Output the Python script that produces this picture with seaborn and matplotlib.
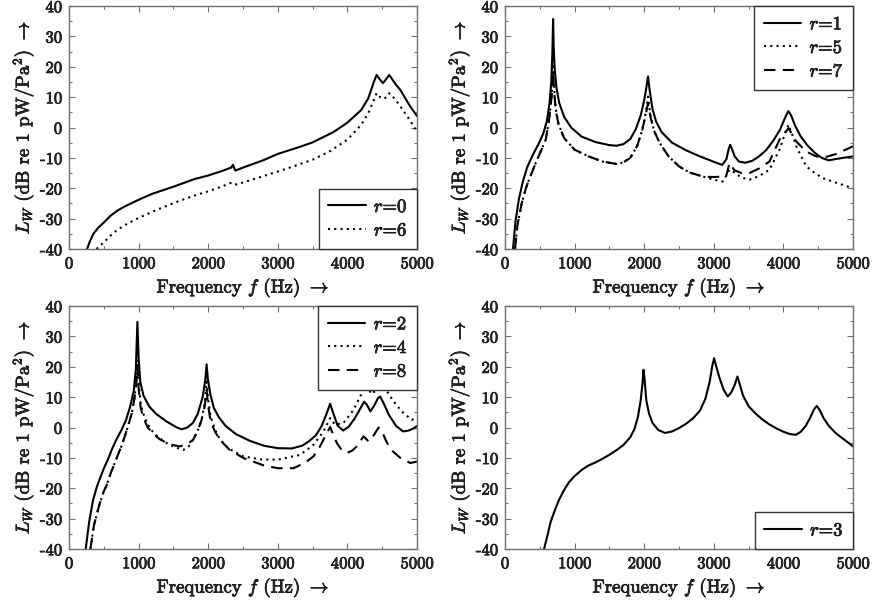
import matplotlib
matplotlib.use("Agg")
import matplotlib.pyplot as plt
import matplotlib.patheffects as pe
import seaborn as sns
from matplotlib.ticker import MultipleLocator

sns.set_style("ticks")
plt.rcParams['font.family'] = 'cmr10'
plt.rcParams['mathtext.fontset'] = 'cm'
plt.rcParams['axes.unicode_minus'] = False

# ---- panel (a): r=0, r=6
f_r0 = [260, 300, 350, 420, 500, 600, 700, 800, 1000, 1200, 1500, 1800, 2000, 2200, 2330, 2355,
        2390, 2500, 2800, 3000, 3300, 3500, 3800, 4000, 4200, 4300, 4380, 4420, 4460, 4510,
        4560, 4600, 4640, 4700, 4760, 4900, 5000]
L_r0 = [-40, -37.5, -35, -33, -31.3, -29, -27.3, -26, -23.8, -21.8, -19.5, -17, -15.8, -14.3, -13.2, -12.3,
        -14.2, -13.2, -10.7, -8.7, -6.5, -4.9, -1.5, 1.6, 5.8, 9.6, 15, 17.3, 16, 14.6,
        16, 17.3, 16, 14, 12.4, 7, 3.8]
f_r6 = [395, 500, 600, 700, 850, 1000, 1250, 1500, 1750, 2000, 2200, 2340, 2410, 2500, 2750,
        3000, 3250, 3500, 3750, 4000, 4200, 4300, 4370, 4420, 4470, 4520, 4560, 4600, 4680,
        4760, 4880, 5000]
L_r6 = [-40, -37.8, -35.5, -33.6, -31.5, -29.8, -27.2, -24.9, -22.8, -21, -19.4, -18.1, -18.8, -18.1, -16.3,
        -14.5, -12.6, -10.6, -7.8, -4, 0.9, 4.7, 8.5, 11.3, 10, 9.4, 10, 11.3, 9.5,
        7, 3, -1.3]

# ---- panel (b): r=1, r=5, r=7
f_r1 = [115, 150, 200, 260, 320, 400, 480, 550, 600, 640, 665, 680, 691, 700, 715, 740, 780,
        850, 950, 1100, 1300, 1500, 1600, 1700, 1800, 1880, 1950, 2000, 2030, 2055, 2080, 2120,
        2170, 2250, 2400, 2600, 2800, 3000, 3120, 3180, 3215, 3235, 3260, 3300, 3360, 3450,
        3550, 3650, 3750, 3850, 3950, 4020, 4070, 4110, 4170, 4250, 4350, 4450, 4550, 4650,
        4800, 5000]
L_r1 = [-40, -31, -23.5, -17.5, -13, -9, -5.5, -2, 2, 8, 15, 24, 35.7, 26, 19, 13, 8,
        3.5, 0, -3, -4.8, -5.8, -6, -5.5, -3.8, -0.5, 4, 9, 13, 16.8, 12, 6,
        2, -1.5, -5, -7.5, -9.5, -11.3, -12.3, -10.5, -7, -5.7, -7, -9.5, -11.2, -11.6,
        -11, -9.5, -7.5, -4.5, -0.8, 3, 5.4, 4, 0.5, -3, -6, -8.3, -10, -10.8,
        -10.2, -9.5]
f_r5 = [144, 180, 240, 300, 345, 441, 520, 585, 630, 660, 680, 691, 705, 730, 770, 850, 1000,
        1200, 1400, 1600, 1700, 1800, 1900, 1970, 2020, 2055, 2090, 2140, 2220, 2350, 2500,
        2650, 2850, 3000, 3129, 3200, 3225, 3273, 3400, 3512, 3650, 3800, 3944, 4030, 4074,
        4130, 4185, 4328, 4450, 4568, 4800, 5000]
L_r5 = [-40, -32, -25, -20, -17.2, -11.7, -7.5, -4, 2, 8, 14, 21.1, 13, 6, 1, -3.5, -7.3,
        -9.5, -11.2, -12, -11.5, -10, -6, -1, 4.5, 10.2, 4, -1, -5, -9.5, -12.8,
        -14.8, -16.2, -17.2, -17.8, -15, -13.9, -14.5, -16.5, -17.2, -16, -13.9, -7.3, -1.5, 0.9,
        -2.5, -6.2, -12.8, -15, -16.7, -18.5, -20]
f_r7 = [144, 180, 240, 300, 345, 441, 520, 585, 630, 660, 680, 691, 705, 730, 770, 850, 1000,
        1200, 1400, 1600, 1700, 1800, 1900, 1970, 2020, 2055, 2090, 2140, 2220, 2350, 2500,
        2650, 2850, 3000, 3177, 3225, 3297, 3400, 3512, 3650, 3800, 3944, 4030, 4074, 4130,
        4185, 4328, 4450, 4568, 4760, 5000]
L_r7 = [-40, -32, -25, -20, -17.2, -11.7, -7.5, -4, 2, 8, 12.5, 18.4, 12, 5.5, 1, -3.5, -7.3,
        -9.5, -11.2, -12, -11.5, -10, -6, -1, 4, 8, 3.5, -1, -5, -9.5, -12.8,
        -14.8, -16.2, -16.3, -16.1, -11.7, -14.1, -15, -15, -13.5, -11.2, -4, -1.5, -0.2, -2.5,
        -4.6, -7.9, -9.3, -10, -8.7, -6.2]

# ---- panel (c): r=2, r=4, r=8
f_r2 = [240, 290, 345, 400, 441, 500, 560, 620, 680, 750, 820, 880, 930, 960, 983, 1000, 1025,
        1070, 1150, 1250, 1400, 1550, 1620, 1700, 1780, 1850, 1920, 1960, 1977, 1995, 2030,
        2080, 2150, 2250, 2400, 2600, 2800, 3000, 3200, 3350, 3450, 3550, 3630, 3700, 3752,
        3800, 3860, 3940, 4020, 4100, 4180, 4240, 4280, 4330, 4380, 4440, 4470, 4520, 4600,
        4700, 4800, 4880, 4950, 5000]
L_r2 = [-40, -31, -24, -19.5, -17, -13.5, -10.5, -7, -4, -1, 2.5, 7, 12, 19, 34.8, 23, 15,
        10.5, 7, 4.5, 2, 0, -0.6, 0, 1.5, 4.5, 10, 16, 20.8, 16, 11,
        6.5, 3.5, 0.5, -2.2, -4.4, -6, -6.8, -6.9, -6, -4.5, -2.5, 0.5, 4.5, 7.8,
        4.5, 0.6, -1, 0.3, 2.8, 6, 8.5, 7.5, 5.3, 7, 9.7, 10.2, 8, 4,
        0.5, -1.3, -1, -0.3, 0.5]
f_r4 = [307, 360, 441, 500, 537, 600, 657, 720, 753, 800, 849, 900, 940, 965, 984, 1000, 1030,
        1065, 1130, 1209, 1300, 1401, 1500, 1641, 1720, 1785, 1850, 1905, 1950, 1977, 2000,
        2035, 2100, 2169, 2300, 2500, 2750, 3000, 3321, 3512, 3656, 3752, 3824, 3944, 4088,
        4184, 4232, 4280, 4340, 4400, 4470, 4540, 4616, 4700, 4808, 4928, 5000]
L_r4 = [-40, -32, -25, -21, -19.2, -15, -11.7, -8, -6.2, -3, 0.5, 4.5, 9.5, 15, 22.2, 15, 8,
        4.7, 1, -1.6, -3.5, -5.1, -6.3, -7.4, -6.2, -4, -1, 2.5, 8, 15.1, 9,
        3.6, -0.8, -4, -7, -9.5, -10.5, -10.6, -9, -5.7, -1.3, 3.1, 0.9, 1.5, 5.8,
        10.2, 12.6, 15, 11, 12, 15, 13, 10.2, 7.5, 4.7, 2.5, 3.6]
f_r8 = [307, 360, 441, 500, 537, 600, 657, 720, 753, 800, 849, 900, 940, 965, 984, 1000, 1030,
        1065, 1130, 1209, 1300, 1401, 1500, 1593, 1700, 1785, 1850, 1905, 1950, 1977, 2000,
        2035, 2100, 2169, 2300, 2500, 2800, 3000, 3225, 3400, 3512, 3600, 3690, 3752, 3800,
        3848, 3920, 3992, 4070, 4136, 4232, 4304, 4380, 4448, 4500, 4568, 4650, 4760, 4904,
        5000]
L_r8 = [-40, -32, -25, -21, -19.2, -15, -11.7, -8, -6.2, -3, 0.5, 4.5, 9.5, 14, 20, 13, 6.5,
        3.5, 0, -2, -3.8, -5.1, -5.8, -6.2, -5.5, -4, -1, 2.5, 7, 12.4, 7,
        2, -1.5, -4, -7.2, -10, -12.5, -13.4, -13.4, -11.5, -9.5, -6.5, -2.5, 0.2, -2.5,
        -5.1, -7.5, -8.4, -7.6, -6.2, -2.9, -4.6, -2.5, 0, -1.5, -5, -7.8, -10, -11.7,
        -11.2]

# ---- panel (d): r=3
f_r3 = [561, 600, 657, 720, 777, 850, 920, 1000, 1100, 1200, 1300, 1400, 1500, 1600, 1700,
        1800, 1860, 1910, 1950, 1975, 1990, 2005, 2030, 2070, 2120, 2200, 2300, 2400, 2500,
        2600, 2700, 2800, 2880, 2940, 2980, 3005, 3030, 3080, 3140, 3200, 3250, 3300, 3340,
        3370, 3420, 3500, 3600, 3700, 3800, 3900, 4000, 4100, 4180, 4250, 4320, 4380, 4440,
        4480, 4520, 4580, 4650, 4750, 4850, 4950, 5000]
L_r3 = [-40, -36.5, -31, -27, -23.8, -20.5, -18, -16, -14, -12.5, -11.5, -10.3, -9, -7.5, -5.8,
        -3.2, -0.5, 3.5, 9, 14.5, 19, 16, 9, 4.5, 1.5, -0.8, -1.8, -1.3, -0.2,
        1.2, 3, 5.5, 9.5, 15, 20.5, 22.8, 20.5, 16.5, 12.5, 10.2, 11.5, 14, 16.8,
        14.5, 10.5, 7, 4.6, 2.6, 1, -0.3, -1.4, -2.2, -2.4, -1.4, 0.5, 3, 6,
        7.1, 5.8, 3, 0.6, -1.8, -3.6, -5.3, -6.2]

solid = '-'
dotted = (0, (1, 2))
dashed = (0, (5.5, 3.5))

panels = [
    ([69, 6], [(f_r0, L_r0, solid, '0'), (f_r6, L_r6, dotted, '6')], 'lower right'),
    ([505, 6], [(f_r1, L_r1, solid, '1'), (f_r5, L_r5, dotted, '5'), (f_r7, L_r7, dashed, '7')], 'upper right'),
    ([69, 306], [(f_r2, L_r2, solid, '2'), (f_r4, L_r4, dotted, '4'), (f_r8, L_r8, dashed, '8')], 'upper right'),
    ([505, 306], [(f_r3, L_r3, solid, '3')], 'lower right'),
]

W, H = 872, 608
fig = plt.figure(figsize=(W / 100, H / 100), dpi=100)
heavy = [pe.withStroke(linewidth=0.5, foreground='black')]

for (x0, y0), series, loc in panels:
    ax = fig.add_axes([x0 / W, 1 - (y0 + 243) / H, 348 / W, 243 / H])
    handles = []
    for f, L, ls, r in series:
        sns.lineplot(x=f, y=L, ax=ax, color='black', linewidth=1.5, linestyle=ls,
                     estimator=None, sort=False)
        handles.append((ax.lines[-1], f'$r$=' + r))
    ax.set_xlim(0, 5000)
    ax.set_ylim(-40, 40)
    ax.xaxis.set_major_locator(MultipleLocator(1000))
    ax.xaxis.set_minor_locator(MultipleLocator(500))
    ax.yaxis.set_major_locator(MultipleLocator(10))
    ax.yaxis.set_minor_locator(MultipleLocator(5))
    ax.tick_params(which='both', direction='in', top=True, right=True, color='#707070',
                   labelsize=12, width=0.8)
    ax.tick_params(which='major', length=4, pad=5)
    ax.tick_params(which='minor', length=2)
    for sp in ax.spines.values():
        sp.set_color('#707070')
        sp.set_linewidth(1.0)
    ax.set_xlabel(r'Frequency $f$ (Hz) $\rightarrow$', fontsize=13.5, labelpad=3)
    ax.set_ylabel(r'$L_W$ (dB re 1 pW/Pa$^2$) $\rightarrow$', fontsize=13.5, labelpad=3)
    leg = ax.legend([h for h, _ in handles], [t for _, t in handles], loc=loc,
                    fontsize=13.5, frameon=True, fancybox=False, framealpha=1,
                    edgecolor='#333333', borderaxespad=0, handlelength=2.0,
                    handletextpad=0.45, labelspacing=0.3, borderpad=0.5)
    leg.get_frame().set_linewidth(1.0)
    for t in (ax.get_xticklabels() + ax.get_yticklabels() + leg.get_texts()
              + [ax.xaxis.label, ax.yaxis.label]):
        t.set_path_effects(heavy)

fig.savefig('out.png', dpi=100)
